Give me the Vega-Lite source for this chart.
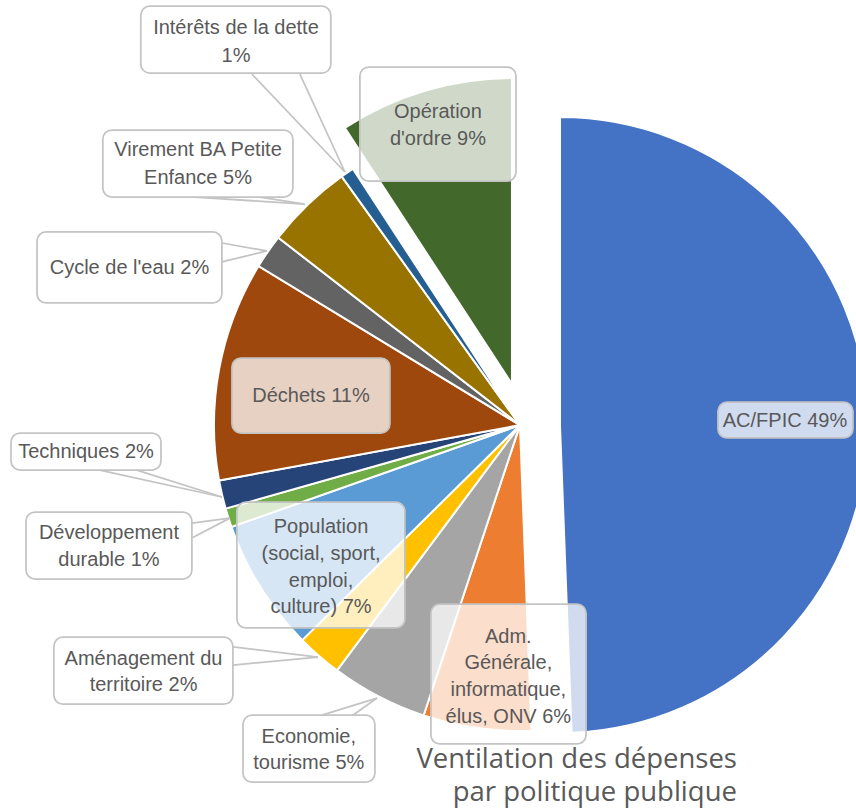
{
  "$schema": "https://vega.github.io/schema/vega-lite/v6.json",
  "width": 856,
  "height": 811,
  "autosize": {"type": "none"},
  "padding": 0,
  "background": "white",
  "config": {"view": {"stroke": null}},
  "datasets": {
    "slices": [
      {"cat": "AC/FPIC", "value": 49.4, "ord": 1},
      {"cat": "Adm. Générale, informatique, élus, ONV", "value": 5.7, "ord": 2},
      {"cat": "Economie, tourisme", "value": 5.1, "ord": 3},
      {"cat": "Aménagement du territoire", "value": 2.4, "ord": 4},
      {"cat": "Population (social, sport, emploi, culture)", "value": 7.0, "ord": 5},
      {"cat": "Développement durable", "value": 1.0, "ord": 6},
      {"cat": "Techniques", "value": 1.5, "ord": 7},
      {"cat": "Déchets", "value": 11.6, "ord": 8},
      {"cat": "Cycle de l'eau", "value": 1.8, "ord": 9},
      {"cat": "Virement BA Petite Enfance", "value": 4.6, "ord": 10},
      {"cat": "Intérêts de la dette", "value": 0.7, "ord": 11},
      {"cat": "Opération d'ordre", "value": 9.2, "ord": 12}
    ],
    "boxes": [
      {"label": "Intérêts", "x0": -123.9, "x1": -61.8, "y0": 136.9, "y1": 115.0},
      {"label": "Virement", "x0": -136.3, "x1": -74.2, "y0": 96.4, "y1": 74.5},
      {"label": "Opération", "x0": -52.3, "x1": -1.3, "y0": 117.0, "y1": 79.7},
      {"label": "Cycle", "x0": -157.8, "x1": -97.4, "y0": 63.1, "y1": 39.9},
      {"label": "Techniques", "x0": -166.3, "x1": -117.3, "y0": -2.6, "y1": -14.7},
      {"label": "Développement", "x0": -161.4, "x1": -107.2, "y0": -28.4, "y1": -50.3},
      {"label": "Population", "x0": -92.5, "x1": -37.6, "y0": -25.2, "y1": -66.3},
      {"label": "Aménagement", "x0": -152.3, "x1": -93.8, "y0": -69.3, "y1": -91.2},
      {"label": "Economie", "x0": -90.5, "x1": -47.4, "y0": -94.8, "y1": -116.7},
      {"label": "Adm", "x0": -29.1, "x1": 21.6, "y0": -58.5, "y1": -104.2},
      {"label": "Déchets", "x0": -94.1, "x1": -42.5, "y0": 21.9, "y1": -2.6},
      {"label": "AC/FPIC", "x0": 64.7, "x1": 108.8, "y0": 7.5, "y1": -4.2}
    ],
    "pointers": [
      {"x": -87.6, "y": 114.7, "x2": -57.2, "y2": 82.7},
      {"x": -71.9, "y": 114.7, "x2": -57.2, "y2": 82.7},
      {"x": -106.2, "y": 74.5, "x2": -70.3, "y2": 72.2},
      {"x": -85.0, "y": 74.5, "x2": -70.3, "y2": 72.2},
      {"x": -97.4, "y": 59.5, "x2": -82.7, "y2": 56.9},
      {"x": -97.4, "y": 53.3, "x2": -82.7, "y2": 56.9},
      {"x": -137.3, "y": -14.7, "x2": -97.4, "y2": -23.5},
      {"x": -125.2, "y": -14.7, "x2": -97.4, "y2": -23.5},
      {"x": -107.2, "y": -32.0, "x2": -94.8, "y2": -30.4},
      {"x": -107.2, "y": -36.9, "x2": -94.8, "y2": -30.4},
      {"x": -93.8, "y": -72.5, "x2": -66.0, "y2": -75.8},
      {"x": -93.8, "y": -78.4, "x2": -66.0, "y2": -75.8},
      {"x": -64.7, "y": -94.8, "x2": -46.7, "y2": -89.2},
      {"x": -54.6, "y": -94.8, "x2": -46.7, "y2": -89.2}
    ],
    "lines": [
      {"t": "Intérêts de la dette", "x": -92.8, "y": 129.7},
      {"t": "1%", "x": -92.8, "y": 120.6},
      {"t": "Virement BA Petite", "x": -105.2, "y": 89.9},
      {"t": "Enfance 5%", "x": -105.2, "y": 80.7},
      {"t": "Opération", "x": -26.8, "y": 102.3},
      {"t": "d'ordre 9%", "x": -26.8, "y": 93.5},
      {"t": "Cycle de l'eau 2%", "x": -127.6, "y": 51.3},
      {"t": "Techniques 2%", "x": -141.8, "y": -8.8},
      {"t": "Développement", "x": -134.3, "y": -35.3},
      {"t": "durable 1%", "x": -134.3, "y": -44.1},
      {"t": "Population", "x": -65.0, "y": -33.3},
      {"t": "(social, sport,", "x": -65.0, "y": -42.2},
      {"t": "emploi,", "x": -65.0, "y": -51.0},
      {"t": "culture) 7%", "x": -65.0, "y": -59.5},
      {"t": "Aménagement du", "x": -123.0, "y": -76.5},
      {"t": "territoire 2%", "x": -123.0, "y": -85.0},
      {"t": "Economie,", "x": -69.0, "y": -102.0},
      {"t": "tourisme 5%", "x": -69.0, "y": -110.5},
      {"t": "Adm.", "x": -3.8, "y": -69.3},
      {"t": "Générale,", "x": -3.8, "y": -77.8},
      {"t": "informatique,", "x": -3.8, "y": -86.6},
      {"t": "élus, ONV 6%", "x": -3.8, "y": -95.4},
      {"t": "Déchets 11%", "x": -68.3, "y": 9.5},
      {"t": "AC/FPIC 49%", "x": 86.6, "y": 1.3}
    ],
    "title": [
      {"t": "Ventilation des dépenses", "x": 70.9, "y": -112.1},
      {"t": "par politique publique", "x": 70.9, "y": -122.9}
    ]
  },
  "layer": [
    {
      "data": {"name": "slices"},
      "transform": [
        {"stack": "value", "groupby": [], "sort": [{"field": "ord", "order": "ascending"}], "as": ["v0", "v1"]},
        {"filter": "datum.ord != 1 && datum.ord != 12"}
      ],
      "mark": {"type": "arc", "outerRadius": 306, "stroke": "white", "strokeWidth": 2},
      "encoding": {
        "theta": {"field": "v0", "type": "quantitative", "scale": {"domain": [0, 100]}},
        "theta2": {"field": "v1"},
        "color": {
          "field": "cat", "type": "nominal", "legend": null,
          "scale": {
            "domain": ["AC/FPIC", "Adm. Générale, informatique, élus, ONV", "Economie, tourisme", "Aménagement du territoire", "Population (social, sport, emploi, culture)", "Développement durable", "Techniques", "Déchets", "Cycle de l'eau", "Virement BA Petite Enfance", "Intérêts de la dette", "Opération d'ordre"],
            "range": ["#4472C4", "#ED7D31", "#A5A5A5", "#FFC000", "#5B9BD5", "#70AD47", "#264478", "#9E480E", "#636363", "#997300", "#255E91", "#43682B"]
          }
        },
        "x": {"datum": 0, "type": "quantitative", "scale": {"domain": [-169.9, 109.8], "nice": false, "zero": false}, "axis": null},
        "y": {"datum": 0, "type": "quantitative", "scale": {"domain": [-126.1, 138.9], "nice": false, "zero": false}, "axis": null}
      }
    },
    {
      "data": {"name": "slices"},
      "transform": [
        {"stack": "value", "groupby": [], "sort": [{"field": "ord", "order": "ascending"}], "as": ["v0", "v1"]},
        {"filter": "datum.ord == 1"}
      ],
      "mark": {"type": "arc", "outerRadius": 308, "stroke": "white", "strokeWidth": 2, "xOffset": 40, "yOffset": 0},
      "encoding": {
        "theta": {"field": "v0", "type": "quantitative"},
        "theta2": {"field": "v1"},
        "color": {"field": "cat", "type": "nominal", "legend": null},
        "x": {"datum": 0, "type": "quantitative"},
        "y": {"datum": 0, "type": "quantitative"}
      }
    },
    {
      "data": {"name": "slices"},
      "transform": [
        {"stack": "value", "groupby": [], "sort": [{"field": "ord", "order": "ascending"}], "as": ["v0", "v1"]},
        {"filter": "datum.ord == 12"}
      ],
      "mark": {"type": "arc", "outerRadius": 306, "stroke": "white", "strokeWidth": 2, "xOffset": -8, "yOffset": -41},
      "encoding": {
        "theta": {"field": "v0", "type": "quantitative"},
        "theta2": {"field": "v1"},
        "color": {"field": "cat", "type": "nominal", "legend": null},
        "x": {"datum": 0, "type": "quantitative"},
        "y": {"datum": 0, "type": "quantitative"}
      }
    },
    {
      "data": {"name": "pointers"},
      "mark": {"type": "rule", "color": "#C4C4C4", "strokeWidth": 1.75},
      "encoding": {
        "x": {"field": "x", "type": "quantitative"},
        "y": {"field": "y", "type": "quantitative"},
        "x2": {"field": "x2"},
        "y2": {"field": "y2"}
      }
    },
    {
      "data": {"name": "boxes"},
      "mark": {"type": "rect", "fill": "white", "fillOpacity": 0.75, "stroke": "#C4C4C4", "strokeWidth": 1.75, "cornerRadius": 9},
      "encoding": {
        "x": {"field": "x0", "type": "quantitative"},
        "x2": {"field": "x1"},
        "y": {"field": "y0", "type": "quantitative"},
        "y2": {"field": "y1"}
      }
    },
    {
      "data": {"name": "lines"},
      "mark": {"type": "text", "font": "Liberation Sans", "fontSize": 20, "color": "#595959", "align": "center", "baseline": "middle"},
      "encoding": {
        "x": {"field": "x", "type": "quantitative"},
        "y": {"field": "y", "type": "quantitative"},
        "text": {"field": "t"}
      }
    },
    {
      "data": {"name": "title"},
      "mark": {"type": "text", "font": "Open Sans", "fontSize": 27.5, "color": "#595959", "align": "right", "baseline": "alphabetic"},
      "encoding": {
        "x": {"field": "x", "type": "quantitative"},
        "y": {"field": "y", "type": "quantitative"},
        "text": {"field": "t"}
      }
    }
  ]
}
